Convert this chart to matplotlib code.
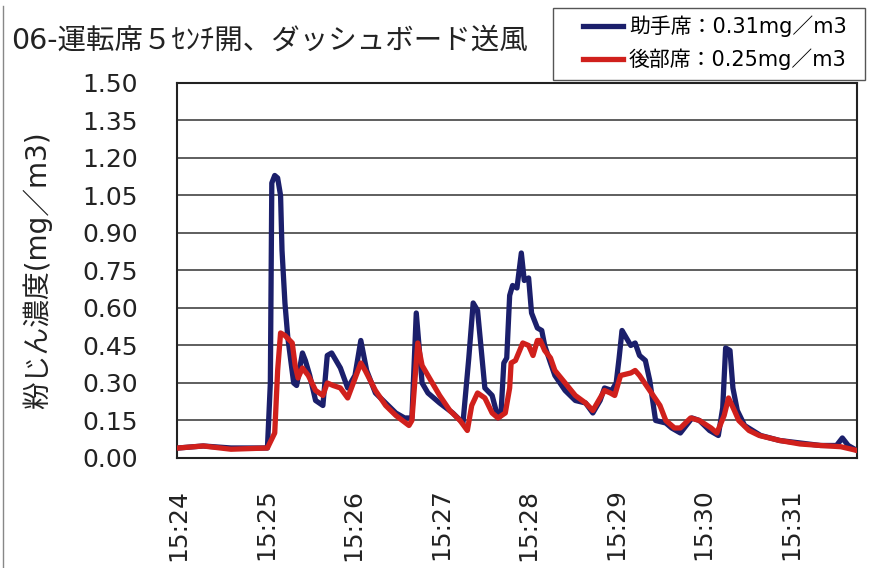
import matplotlib.pyplot as plt
from matplotlib.lines import Line2D
from matplotlib.patches import Rectangle

plt.rcParams['font.family'] = ['DejaVu Sans', 'Noto Sans CJK JP']

# 経過秒（15:24:00 起点）と粉じん濃度 mg/m3
t_jo = [0, 17, 36, 61, 63, 64, 66, 68, 70, 71, 73, 75, 79, 81, 85, 87, 90, 94, 99,
        102, 105, 108, 111, 116, 121, 125, 129, 135, 142, 149, 155, 160, 163, 167,
        171, 179, 188, 195, 199, 202, 205, 210, 215, 219, 221, 223, 225, 227, 229,
        232, 235, 237, 240, 242, 246, 249, 251, 255, 258, 265, 272, 279, 284, 289,
        292, 297, 300, 302, 304, 306, 310, 313, 316, 320, 323, 327, 334, 338, 344,
        352, 357, 364, 370, 373, 375, 378, 380, 383, 388, 399, 412, 426, 440, 451,
        455, 459, 465]
c_jo = [0.04, 0.048, 0.04, 0.04, 0.30, 1.10, 1.13, 1.12, 1.05, 0.83, 0.62, 0.48,
        0.30, 0.29, 0.42, 0.39, 0.33, 0.23, 0.21, 0.41, 0.42, 0.39, 0.36, 0.28,
        0.33, 0.47, 0.35, 0.26, 0.22, 0.18, 0.16, 0.16, 0.58, 0.30, 0.26, 0.22,
        0.18, 0.14, 0.40, 0.62, 0.59, 0.28, 0.25, 0.16, 0.17, 0.38, 0.40, 0.65,
        0.69, 0.68, 0.82, 0.71, 0.72, 0.58, 0.52, 0.51, 0.45, 0.38, 0.33, 0.27,
        0.23, 0.22, 0.18, 0.23, 0.28, 0.27, 0.30, 0.40, 0.51, 0.49, 0.45, 0.46,
        0.41, 0.39, 0.31, 0.15, 0.14, 0.12, 0.10, 0.16, 0.15, 0.11, 0.09, 0.20,
        0.44, 0.43, 0.28, 0.19, 0.13, 0.09, 0.07, 0.06, 0.05, 0.05, 0.08, 0.05,
        0.03]

t_ko = [0, 17, 36, 61, 66, 68, 70, 73, 78, 80, 82, 85, 89, 94, 99, 102, 106, 111,
        116, 125, 128, 135, 142, 149, 158, 160, 164, 167, 173, 179, 186, 193, 198,
        201, 205, 210, 215, 219, 224, 227, 228, 231, 236, 240, 243, 246, 248, 251,
        255, 258, 265, 272, 279, 284, 289, 292, 296, 299, 303, 310, 313, 316, 323,
        330, 334, 340, 344, 351, 357, 365, 369, 374, 377, 381, 384, 391, 398, 412,
        426, 440, 454, 465]
c_ko = [0.04, 0.048, 0.035, 0.04, 0.10, 0.35, 0.50, 0.49, 0.46, 0.37, 0.32, 0.36,
        0.33, 0.27, 0.25, 0.30, 0.29, 0.28, 0.24, 0.38, 0.35, 0.27, 0.21, 0.17,
        0.13, 0.15, 0.46, 0.37, 0.31, 0.25, 0.19, 0.15, 0.11, 0.21, 0.26, 0.24,
        0.18, 0.16, 0.18, 0.28, 0.38, 0.39, 0.46, 0.45, 0.41, 0.47, 0.47, 0.43,
        0.40, 0.35, 0.30, 0.25, 0.22, 0.19, 0.24, 0.27, 0.26, 0.25, 0.33, 0.34,
        0.35, 0.33, 0.27, 0.21, 0.15, 0.12, 0.12, 0.16, 0.15, 0.12, 0.10, 0.17,
        0.24, 0.19, 0.15, 0.11, 0.09, 0.07, 0.056, 0.05, 0.045, 0.03]

tick_sec = [0, 60, 120, 180, 240, 300, 360, 420]
tick_lbl = ['15:24', '15:25', '15:26', '15:27', '15:28', '15:29', '15:30', '15:31']
y_ticks = [0.00, 0.15, 0.30, 0.45, 0.60, 0.75, 0.90, 1.05, 1.20, 1.35, 1.50]

fig = plt.figure(figsize=(8.7, 5.68), dpi=100)
ax = fig.add_axes([0.2034, 0.1937, 0.7816, 0.6602])

ax.plot(t_jo, c_jo, color='#1b1f6b', lw=3.8, label='助手席：0.31mg／m3', zorder=3)
ax.plot(t_ko, c_ko, color='#d0201c', lw=3.8, label='後部席：0.25mg／m3', zorder=4)

ax.set_xlim(-1, 465)
ax.set_ylim(0, 1.5)
ax.set_yticks(y_ticks)
ax.set_yticklabels(['%.2f' % v for v in y_ticks])
ax.set_xticks(tick_sec)
ax.set_xticklabels(tick_lbl, rotation=90, va='top', ha='center')
ax.tick_params(axis='y', length=0, pad=28, labelsize=18, colors='#222')
ax.tick_params(axis='x', length=0, pad=22, labelsize=18, colors='#222')
ax.grid(axis='y', color='#333', lw=1.1)
ax.set_axisbelow(True)
for s in ax.spines.values():
    s.set_color('#222')
    s.set_linewidth(1.5)

ax.set_ylabel('粉じん濃度(mg／m3)', fontsize=20, color='#222')
ax.yaxis.set_label_coords(-0.183, 0.5)

fig.text(0.013, 0.928, '06-運転席５ｾﾝﾁ開、ダッシュボード送風', fontsize=20.5,
         va='center', ha='left', color='#222')

# 凡例の枠
fig.add_artist(Rectangle((553 / 870, 1 - 80 / 568), 312 / 870, 72 / 568,
                         transform=fig.transFigure, fill=False,
                         edgecolor='#555', lw=1.0))
leg = ax.legend(loc='center left', bbox_to_anchor=(583 / 870, 1 - 43 / 568),
                bbox_transform=fig.transFigure, borderaxespad=0, borderpad=0,
                fontsize=15, frameon=False, handlelength=1.9, handletextpad=0.3,
                labelspacing=0.55)

# 左端の枠線
fig.add_artist(Line2D([0.004, 0.004], [0, 0.99], transform=fig.transFigure,
                      color='#888', lw=1))

fig.savefig('out.png', dpi=100)
